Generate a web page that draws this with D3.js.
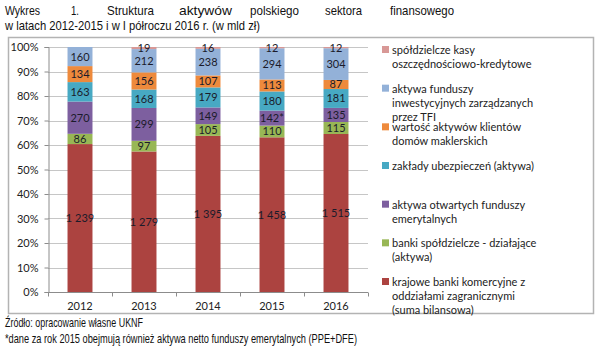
<!DOCTYPE html>
<html>
<head>
<meta charset="utf-8">
<script src="https://cdn.jsdelivr.net/npm/d3@7"></script>
<style>
  html, body { margin: 0; padding: 0; background: #fff; }
  svg { display: block; }
</style>
</head>
<body>
<svg id="chart" width="600" height="348"></svg>
<script>
// Years on the x axis
const years = ["2012", "2013", "2014", "2015", "2016"];

// Series, bottom of the stack first (values in bln PLN)
const seriesNames = [
  "krajowe banki komercyjne z oddziałami zagranicznymi (suma bilansowa)",
  "banki spółdzielcze - działające (aktywa)",
  "aktywa otwartych funduszy emerytalnych",
  "zakłady ubezpieczeń (aktywa)",
  "wartość aktywów klientów domów maklerskich",
  "aktywa funduszy inwestycyjnych zarządzanych przez TFI",
  "spółdzielcze kasy oszczędnościowo-kredytowe"
];
const banks      = [1239, 1279, 1395, 1458, 1515];
const coopBanks  = [86, 97, 105, 110, 115];
const pensionOFE = [270, 299, 149, 142, 135];
const insurers   = [163, 168, 179, 180, 181];
const brokers    = [134, 156, 107, 113, 87];
const tfiFunds   = [160, 212, 238, 294, 304];
const skok       = [null, 19, 16, 12, 12];

// Footnote marker attached to a single value label
const labelSuffix = { "2015|aktywa otwartych funduszy emerytalnych": "*" };

// Legend lines (top to bottom)
const legendLines = [
  ["spółdzielcze kasy", "oszczędnościowo-kredytowe"],
  ["aktywa funduszy", "inwestycyjnych zarządzanych", "przez TFI"],
  ["wartość aktywów klientów", "domów maklerskich"],
  ["zakłady ubezpieczeń (aktywa)"],
  ["aktywa otwartych funduszy", "emerytalnych"],
  ["banki spółdzielcze - działające", "(aktywa)"],
  ["krajowe banki komercyjne z", "oddziałami zagranicznymi", "(suma bilansowa)"]
];

const colors = ["#AC4340", "#98B755", "#7D5F9F", "#47A9C3", "#EE8A3C", "#93B1D8", "#D89896"];

const titleWords = ["Wykres", "1.", "Struktura", "aktywów", "polskiego", "sektora", "finansowego"];
const titleLine2 = "w latach 2012-2015 i w I półroczu 2016 r. (w mld zł)";
const footnotes = [
  "Źródło: opracowanie własne UKNF",
  "*dane za rok 2015 obejmują również aktywa netto funduszy emerytalnych (PPE+DFE)"
];

const seriesValues = [banks, coopBanks, pensionOFE, insurers, brokers, tfiFunds, skok];

const svg = d3.select("#chart");
const textFont = "'Liberation Sans', Arial, sans-serif";
const chartFont = "Lato, 'Open Sans', sans-serif";

// ---- Title (justified first line) ----
const titleX = [5, 71, 107, 179, 250, 325, 390];
const titleW = [35, 8, 47, 53, 49, 37, 64];
svg.append("g").selectAll("text").data(titleWords).join("text")
  .attr("x", (d, i) => titleX[i]).attr("y", 15)
  .attr("textLength", (d, i) => titleW[i]).attr("lengthAdjust", "spacingAndGlyphs")
  .style("font-family", textFont).style("font-size", "13px").attr("fill", "#111")
  .text(d => d);
svg.append("text").attr("x", 5).attr("y", 29.5)
  .attr("textLength", 255).attr("lengthAdjust", "spacingAndGlyphs")
  .style("font-family", textFont).style("font-size", "13px").attr("fill", "#111")
  .text(titleLine2);

// ---- Chart frame ----
svg.append("rect").attr("x", 8.5).attr("y", 37.5).attr("width", 585).attr("height", 276)
  .attr("fill", "#fff").attr("stroke", "#b3b3b3").attr("stroke-width", 1.5);

// ---- Data preparation ----
const rows = years.map((y, i) => {
  const row = { year: y };
  seriesNames.forEach((s, k) => { row[s] = seriesValues[k][i] || 0; });
  return row;
});
const stack = d3.stack().keys(seriesNames).offset(d3.stackOffsetExpand);
const layers = stack(rows);

const x = d3.scaleBand().domain(years).range([48, 368]).paddingInner(0.61).paddingOuter(0.305);
const y = d3.scaleLinear().domain([0, 1]).range([292, 47]);

// ---- Gridlines ----
const ticks = d3.range(0, 11).map(d => d / 10);
svg.append("g").selectAll("line").data(ticks.slice(1)).join("line")
  .attr("x1", 48).attr("x2", 368)
  .attr("y1", d => Math.round(y(d)) + 0.5).attr("y2", d => Math.round(y(d)) + 0.5)
  .attr("stroke", "#c6c6c6").attr("stroke-width", 1);

// ---- Y axis ----
const yAxis = svg.append("g").attr("transform", "translate(48.5,0)")
  .call(d3.axisLeft(y).tickValues(ticks).tickFormat(d3.format(".0%")).tickSize(4).tickPadding(6));
yAxis.select(".domain").attr("stroke", "#8c8c8c");
yAxis.selectAll(".tick line").attr("stroke", "#8c8c8c");
yAxis.selectAll("text").style("font-family", chartFont).style("font-size", "11px").attr("fill", "#222");

// ---- Bars ----
const g = svg.append("g");
layers.forEach((layer, k) => {
  g.append("g").attr("fill", colors[k]).selectAll("rect").data(layer).join("rect")
    .attr("x", d => x(d.data.year))
    .attr("width", x.bandwidth())
    .attr("y", d => y(d[1]))
    .attr("height", d => Math.max(0, y(d[0]) - y(d[1])));
});

// ---- X axis ----
const xAxisG = svg.append("g").attr("transform", "translate(0,292.5)");
xAxisG.append("line").attr("x1", 48).attr("x2", 368).attr("stroke", "#8c8c8c");
const bounds = years.map(yv => x(yv) - x.step() * x.paddingInner() / 2).concat([368]);
xAxisG.selectAll("line.tk").data(bounds).join("line").attr("class", "tk")
  .attr("x1", d => Math.round(d) + 0.5).attr("x2", d => Math.round(d) + 0.5)
  .attr("y1", 0).attr("y2", 4).attr("stroke", "#8c8c8c");
xAxisG.selectAll("text").data(years).join("text")
  .attr("x", d => x(d) + x.bandwidth() / 2).attr("y", 17)
  .attr("text-anchor", "middle")
  .style("font-family", chartFont).style("font-size", "11px").attr("fill", "#222")
  .text(d => d);

// ---- Value labels ----
const plFormat = d3.formatLocale({ decimal: ",", thousands: "\u00a0", grouping: [3], currency: ["", " zł"] }).format(",d");
layers.forEach((layer, k) => {
  const name = seriesNames[k];
  g.append("g").selectAll("text").data(layer.filter((d, i) => seriesValues[k][i] != null)).join("text")
    .attr("x", d => x(d.data.year) + x.bandwidth() / 2)
    .attr("y", d => (y(d[0]) + y(d[1])) / 2)
    .attr("dy", "0.36em")
    .attr("text-anchor", "middle")
    .style("font-family", chartFont).style("font-size", "11px").attr("fill", "#1b1b2a")
    .text(d => plFormat(d.data[name]) + (labelSuffix[d.data.year + "|" + name] || ""));
});

// ---- Legend ----
const legendColors = colors.slice().reverse();
const legendY = d3.scaleLinear().domain([0, legendLines.length - 1]).range([50, 282]);
const leg = svg.append("g");
legendLines.forEach((lines, i) => {
  const cy = legendY(i);
  leg.append("rect").attr("x", 382).attr("y", cy - 4).attr("width", 7).attr("height", 7)
    .attr("fill", legendColors[i]);
  leg.append("g").selectAll("text").data(lines).join("text")
    .attr("x", 392).attr("y", (d, j) => cy + j * 14).attr("dy", "0.36em")
    .style("font-family", chartFont).style("font-size", "11px").attr("fill", "#222")
    .text(d => d);
});

// ---- Footnotes ----
const footW = [138, 352];
svg.append("g").selectAll("text").data(footnotes).join("text")
  .attr("x", 5).attr("y", (d, i) => 326.5 + i * 16)
  .attr("textLength", (d, i) => footW[i]).attr("lengthAdjust", "spacingAndGlyphs")
  .style("font-family", textFont).style("font-size", "13px").attr("fill", "#111")
  .text(d => d);
</script>
</body>
</html>
